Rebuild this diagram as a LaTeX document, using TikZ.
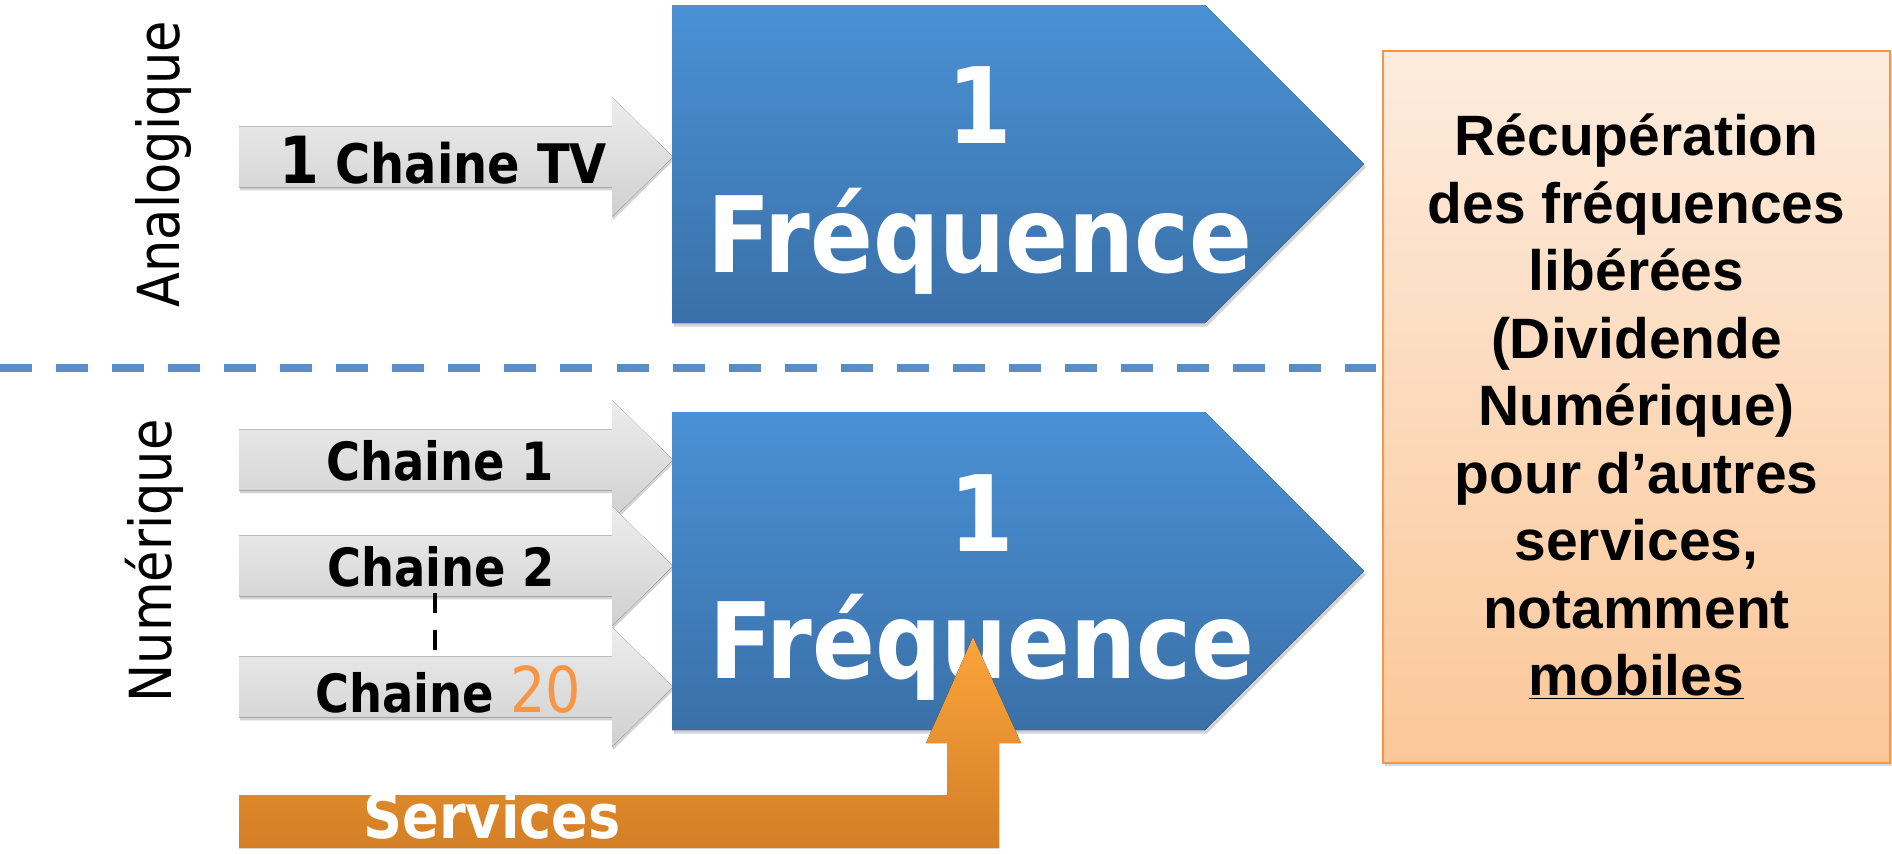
\documentclass[tikz,border=0pt]{standalone}
\usepackage{fontspec}
\usepackage{tikz}
\usetikzlibrary{shadows,positioning}
\newfontfamily\tahoma[FakeStretch=0.88]{DejaVu Sans}
\newfontfamily\arialb{Liberation Sans}
\definecolor{freqblue}{RGB}{74,145,213}
\definecolor{freqbluedark}{RGB}{58,112,168}
\definecolor{chgray}{RGB}{237,237,237}
\definecolor{chgraydark}{RGB}{208,208,208}
\definecolor{peachlight}{RGB}{253,236,222}
\definecolor{peach}{RGB}{251,199,152}
\definecolor{orange20}{RGB}{247,150,70}
\definecolor{servlight}{RGB}{252,165,60}
\definecolor{servdark}{RGB}{212,126,38}
\definecolor{sepblue}{RGB}{90,140,198}

\begin{document}
\begin{tikzpicture}[x=0.02cm, y=-0.02cm,
  every node/.style={inner sep=0pt},
  chainarrow/.style={top color=chgray, bottom color=chgraydark,
    drop shadow={shadow xshift=0.6pt, shadow yshift=-1.6pt, opacity=0.35}},
  freqshape/.style={top color=freqblue, bottom color=freqbluedark,
    drop shadow={shadow xshift=1pt, shadow yshift=-2pt, opacity=0.35}},
  chaintext/.style={font=\tahoma\bfseries\fontsize{30}{30}\selectfont, anchor=base},
  freqtext/.style={font=\tahoma\bfseries\fontsize{60}{60}\selectfont, text=white, anchor=base},
  sidetext/.style={font=\tahoma\fontsize{33}{33}\selectfont, rotate=90, anchor=base},
  recup/.style={draw=orange20, line width=1.2pt, top color=peachlight, bottom color=peach,
    minimum width=10.14cm, minimum height=14.24cm, align=center,
    font=\arialb\bfseries\fontsize{32.4}{38.4}\selectfont,
    drop shadow={shadow xshift=1pt, shadow yshift=-1.5pt, opacity=0.3}}]

% drawing area, in pixels of the slide
\useasboundingbox (0,0) rectangle (1892,853);

% separation analogique / numerique
\coordinate (sepL) at (0,368);
\coordinate (sepR) at (1376,368);
\draw[sepblue, line width=4pt, dash pattern=on 18.2pt off 13.7pt] (sepL) -- (sepR);

% side labels
\node[sidetext] (ana) at (179,164) {Analogique};
\node[sidetext] (num) at (171,561) {Numérique};

% gray channel arrows: body 61px, head 120px
\foreach \y in {157,460,566,687}
  \fill[chainarrow] (239,\y-30.5) -- (612,\y-30.5) -- (612,\y-60) -- (673,\y)
    -- (612,\y+60) -- (612,\y+30.5) -- (239,\y+30.5) -- cycle;

% channel labels
\node[chaintext, font=\tahoma\bfseries\fontsize{31}{31}\selectfont] (tv) at (443,183)
  {{\fontsize{37}{37}\selectfont 1} Chaine TV};
\node[chaintext] (ch1) at (440,480) {Chaine 1};
\node[chaintext] (ch2) at (441,586) {Chaine 2};
\node[chaintext] (ch20) at (448,712)
  {Chaine {\mdseries\fontsize{36}{36}\selectfont\color{orange20}20}};

% dashes between Chaine 2 and Chaine 20
\coordinate (dotT) at (435,593);
\coordinate (dotB) at (435,653);
\draw[line width=2.5pt, dash pattern=on 11.4pt off 9.7pt] (dotT) -- (dotB);

% frequency pentagons
\foreach \t in {5,412}
  \fill[freqshape] (672,\t) -- (1205,\t) -- (1364,\t+159) -- (1205,\t+318)
    -- (672,\t+318) -- cycle;
\node[freqtext] (oneA) at (980,143) {1};
\node[freqtext] (freqA) at (980,272) {Fréquence};
\node[freqtext] (oneN) at (982,551) {1};
\node[freqtext] (freqN) at (982,678) {Fréquence};

% services: bent arrow up into the digital frequency
\fill[top color=servlight, bottom color=servdark] (239,795) -- (947,795) -- (947,743)
  -- (926,743) -- (973,637) -- (1021,743) -- (999,743) -- (999,848) -- (239,848) -- cycle;
\node[chaintext, font=\tahoma\bfseries\fontsize{35}{35}\selectfont, text=white] (serv)
  at (492,838) {Services};

% result box
\node[recup] (res) at (1636.5,407) {Récupération\\des fréquences\\libérées\\(Dividende\\Numérique)\\pour d’autres\\services,\\notamment\\\underline{mobiles}};

\end{tikzpicture}
\end{document}
